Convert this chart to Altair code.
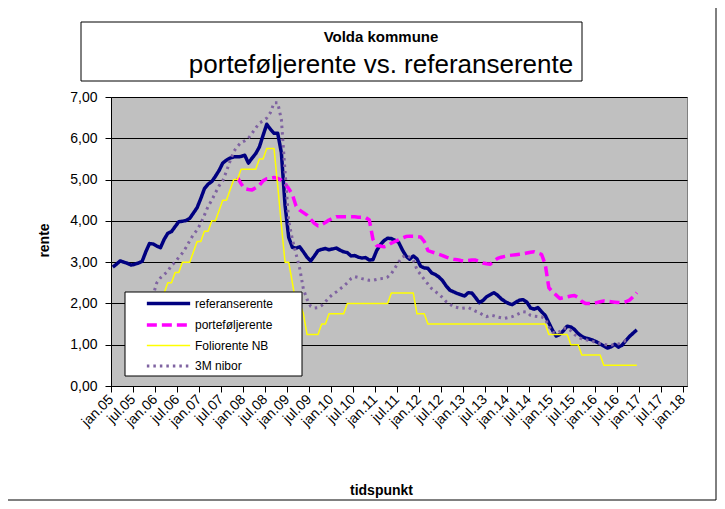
import altair as alt
import pandas as pd

# ---------------- data ----------------
series_names = ["referanserente", "porteføljerente", "Foliorente NB", "3M nibor"]
series_colors = ["#000080", "#FF00FF", "#FFFF00", "#7F63A1"]
series_dash = [[1, 0], [10, 5], [1, 0], [2.5, 4]]
series_width = [3.5, 3.5, 1.5, 3]

# month index of first value (0 = jan.05); points sit mid-month
referanse_start = 0
referanserente = [
    2.88, 2.95, 3.03, 3.00, 2.97, 2.93, 2.95, 2.98, 3.02, 3.25,
    3.45, 3.44, 3.39, 3.35, 3.55, 3.70, 3.74, 3.86, 3.98, 3.99,
    4.01, 4.06, 4.19, 4.32, 4.54, 4.78, 4.89, 4.95, 5.08, 5.22,
    5.40, 5.47, 5.52, 5.55, 5.55, 5.56, 5.59, 5.40, 5.52, 5.63,
    5.79, 6.07, 6.34, 6.22, 6.12, 6.12, 5.65, 4.38, 3.60, 3.36,
    3.34, 3.37, 3.25, 3.12, 3.03, 3.15, 3.28, 3.31, 3.33, 3.30,
    3.32, 3.34, 3.29, 3.25, 3.23, 3.15, 3.16, 3.12, 3.10, 3.11,
    3.05, 3.06, 3.28, 3.42, 3.52, 3.58, 3.57, 3.53, 3.48, 3.30,
    3.15, 3.07, 3.15, 3.08, 2.90, 2.86, 2.85, 2.74, 2.70, 2.64,
    2.55, 2.42, 2.32, 2.28, 2.24, 2.21, 2.18, 2.26, 2.25, 2.14,
    2.02, 2.07, 2.16, 2.21, 2.26, 2.20, 2.11, 2.05, 2.00, 1.97,
    2.03, 2.08, 2.09, 2.03, 1.89, 1.86, 1.90, 1.80, 1.71, 1.53,
    1.35, 1.21, 1.25, 1.34, 1.45, 1.43, 1.37, 1.27, 1.20, 1.16,
    1.14, 1.11, 1.07, 1.02, 0.97, 0.92, 0.95, 1.01, 0.94, 0.99,
    1.10, 1.20, 1.28, 1.36,
]

portefolje_start = 34
porteføljerente = [
    5.05, 4.90, 4.78, 4.76, 4.75, 4.80, 4.86, 4.97, 5.02, 5.03,
    5.05, 5.03, 4.98, 4.90, 4.78, 4.64, 4.36, 4.26, 4.20, 4.14,
    4.04, 3.94, 3.88, 3.91, 3.96, 4.02, 4.06, 4.10, 4.10, 4.10,
    4.10, 4.10, 4.10, 4.09, 4.09, 4.08, 4.02, 3.55, 3.40, 3.39,
    3.37, 3.40, 3.46, 3.50, 3.54, 3.58, 3.62, 3.63, 3.63, 3.62,
    3.61, 3.50, 3.28, 3.25, 3.22, 3.19, 3.16, 3.12, 3.09, 3.07,
    3.06, 3.04, 3.03, 3.04, 3.05, 3.05, 3.02, 2.98, 2.96, 2.95,
    3.03, 3.09, 3.12, 3.14, 3.16, 3.17, 3.18, 3.19, 3.20, 3.22,
    3.24, 3.25, 3.22, 3.19, 2.95, 2.38, 2.28, 2.20, 2.12, 2.14,
    2.16, 2.18, 2.19, 2.14, 2.05, 2.00, 2.00, 2.00, 2.02, 2.04,
    2.06, 2.05, 2.04, 2.03, 2.02, 2.02, 2.04, 2.08, 2.16, 2.26,
]

folio_start = 5
foliorente = [
    2.00, 2.00, 2.00, 2.00, 2.25, 2.25, 2.25, 2.25, 2.25, 2.25,
    2.50, 2.50, 2.75, 2.75, 3.00, 3.00, 3.00, 3.25, 3.50, 3.50,
    3.75, 3.75, 4.00, 4.00, 4.25, 4.50, 4.50, 4.75, 5.00, 5.00,
    5.25, 5.25, 5.25, 5.25, 5.25, 5.50, 5.50, 5.75, 5.75, 5.75,
    4.85, 3.90, 3.00, 3.00, 2.50, 2.00, 2.00, 1.75, 1.25, 1.25,
    1.25, 1.25, 1.50, 1.50, 1.75, 1.75, 1.75, 1.75, 1.75, 2.00,
    2.00, 2.00, 2.00, 2.00, 2.00, 2.00, 2.00, 2.00, 2.00, 2.00,
    2.00, 2.25, 2.25, 2.25, 2.25, 2.25, 2.25, 2.25, 1.75, 1.75,
    1.75, 1.50, 1.50, 1.50, 1.50, 1.50, 1.50, 1.50, 1.50, 1.50,
    1.50, 1.50, 1.50, 1.50, 1.50, 1.50, 1.50, 1.50, 1.50, 1.50,
    1.50, 1.50, 1.50, 1.50, 1.50, 1.50, 1.50, 1.50, 1.50, 1.50,
    1.50, 1.50, 1.50, 1.50, 1.25, 1.25, 1.25, 1.25, 1.25, 1.25,
    1.00, 1.00, 1.00, 0.75, 0.75, 0.75, 0.75, 0.75, 0.75, 0.50,
    0.50, 0.50, 0.50, 0.50, 0.50, 0.50, 0.50, 0.50, 0.50,
]

nibor_start = 6
nibor = [
    1.95, 2.00, 2.05, 2.10, 2.15, 2.20, 2.50, 2.62, 2.70, 2.78,
    2.92, 3.00, 3.12, 3.22, 3.36, 3.52, 3.67, 3.78, 3.94, 4.14,
    4.35, 4.50, 4.68, 4.85, 4.97, 5.20, 5.45, 5.68, 5.80, 5.90,
    5.94, 6.00, 6.12, 6.25, 6.37, 6.42, 6.49, 6.62, 6.86, 6.86,
    6.45, 5.20, 4.00, 3.55, 3.20, 2.85, 2.35, 2.10, 1.93, 1.89,
    1.90, 1.95, 2.04, 2.14, 2.22, 2.28, 2.35, 2.42, 2.50, 2.60,
    2.65, 2.63, 2.60, 2.58, 2.56, 2.56, 2.58, 2.60, 2.61, 2.64,
    2.72, 2.86, 3.00, 3.12, 3.17, 3.12, 3.05, 2.82, 2.70, 2.58,
    2.47, 2.36, 2.29, 2.22, 2.14, 2.04, 1.98, 1.92, 1.90, 1.88,
    1.89, 1.90, 1.86, 1.81, 1.78, 1.72, 1.68, 1.71, 1.70, 1.67,
    1.65, 1.64, 1.66, 1.68, 1.72, 1.76, 1.80, 1.79, 1.71, 1.69,
    1.68, 1.68, 1.62, 1.45, 1.30, 1.28, 1.32, 1.40, 1.40, 1.34,
    1.25, 1.18, 1.14, 1.12, 1.10, 1.08, 1.05, 1.03, 1.01, 0.99,
    0.99, 1.00, 1.02, 1.06, 1.10, 1.07,
]

x_tick_labels = [
    "jan.05", "jul.05", "jan.06", "jul.06", "jan.07", "jul.07", "jan.08",
    "jul.08", "jan.09", "jul.09", "jan.10", "jul.10", "jan.11", "jul.11",
    "jan.12", "jul.12", "jan.13", "jul.13", "jan.14", "jul.14", "jan.15",
    "jul.15", "jan.16", "jul.16", "jan.17", "jul.17", "jan.18",
]
y_tick_values = [0, 1, 2, 3, 4, 5, 6, 7]
title_line1 = "Volda kommune"
title_line2 = "porteføljerente vs. referanserente"

# ---------------- build table ----------------
rows = []
for idx, (start, vals) in enumerate([
    (referanse_start, referanserente),
    (portefolje_start, porteføljerente),
    (folio_start, foliorente),
    (nibor_start, nibor),
]):
    for i, v in enumerate(vals):
        rows.append({"idx": idx, "series": series_names[idx],
                     "month": start + i + 0.5, "rente": v})
df = pd.DataFrame(rows)

x_tick_values = [6 * i for i in range(len(x_tick_labels))]
label_js = "[" + ",".join("'" + s + "'" for s in x_tick_labels) + "]"
names_js = "[" + ",".join("'" + s + "'" for s in series_names) + "]"
thresholds = [0.5, 1.5, 2.5]

FONT = "Liberation Sans"
W, H = 576, 289

legend = alt.Legend(
    title=None, orient="none", legendX=14, legendY=196, padding=0,
    symbolType="M-2.5,0H2.5", symbolSize=300, symbolOffset=33,
    labelOffset=16, labelFont=FONT, labelFontSize=12, labelColor="black",
    labelExpr=names_js + "[datum.index]",
    rowPadding=3.5, fillColor="transparent", strokeColor="transparent",
)

x_enc = alt.X(
    "month:Q",
    scale=alt.Scale(domain=[0, 157.2], nice=False, zero=False),
    axis=alt.Axis(
        values=x_tick_values, labelExpr=label_js + "[round(datum.value/6)]",
        labelAngle=315, labelAlign="right", labelBaseline="middle",
        labelFont=FONT, labelFontSize=14, labelColor="black", labelPadding=5,
        labelOverlap=False, labelBound=False, labelFlush=False,
        domainColor="black", tickColor="black", tickSize=6, grid=False,
        title="tidspunkt", titleFont=FONT, titleFontSize=14, titleFontWeight="bold",
        titleColor="black", titleX=270, titleY=104, titleAlign="center",
        titleBaseline="middle",
    ),
)
y_enc = alt.Y(
    "rente:Q",
    scale=alt.Scale(domain=[0, 7], nice=False, zero=True),
    axis=alt.Axis(
        values=y_tick_values,
        labelExpr="replace(format(datum.value, '.2f'), '.', ',')",
        labelFont=FONT, labelFontSize=14, labelColor="black", labelPadding=8,
        domainColor="black", tickColor="black", tickSize=6,
        gridColor="black", gridWidth=1, labelFlush=False,
        title="rente", titleFont=FONT, titleFontSize=14, titleFontWeight="bold",
        titleColor="black", titleX=-67, titleY=143, titleAngle=270,
        titleAlign="center", titleBaseline="middle",
    ),
)
color_enc = alt.Color("idx:Q", scale=alt.Scale(type="threshold", domain=thresholds, range=series_colors), legend=legend)
dash_enc = alt.StrokeDash("idx:Q", scale=alt.Scale(type="threshold", domain=thresholds, range=series_dash), legend=legend)
width_enc = alt.StrokeWidth("idx:Q", scale=alt.Scale(type="threshold", domain=thresholds, range=series_width), legend=legend)

base = alt.Chart(df)
line_layers = [
    base.mark_line(strokeJoin="round", clip=True)
    .encode(x=x_enc, y=y_enc, color=color_enc, strokeDash=dash_enc, strokeWidth=width_enc)
    .transform_filter(alt.datum.idx == k)
    for k in range(len(series_names))
]

one = pd.DataFrame({"k": [0]})
legend_box = alt.Chart(one).mark_rect(fill="white", stroke="black", strokeWidth=1).encode(
    x=alt.value(14), x2=alt.value(191), y=alt.value(195), y2=alt.value(279)
)
title_box = alt.Chart(one).mark_rect(fill="white", stroke="black", strokeWidth=1, clip=False).encode(
    x=alt.value(-30), x2=alt.value(471), y=alt.value(-75), y2=alt.value(-16)
)
title_text1 = alt.Chart(one).mark_text(
    text=title_line1, font=FONT, fontSize=15, fontWeight="bold", color="black",
    align="center", baseline="alphabetic", clip=False,
).encode(x=alt.value(270), y=alt.value(-55))
title_text2 = alt.Chart(one).mark_text(
    text=title_line2, font=FONT, fontSize=26, color="black",
    align="center", baseline="alphabetic", clip=False,
).encode(x=alt.value(270), y=alt.value(-24.5))
frame_right = alt.Chart(one).mark_rule(color="black", strokeWidth=1, clip=False).encode(
    x=alt.value(605), y=alt.value(-89), y2=alt.value(403)
)
frame_bottom = alt.Chart(one).mark_rule(color="black", strokeWidth=1, clip=False).encode(
    x=alt.value(-103), x2=alt.value(605), y=alt.value(403)
)

chart = alt.layer(
    *line_layers, legend_box, title_box, title_text1, title_text2, frame_right, frame_bottom
).properties(
    width=W, height=H,
    autosize=alt.AutoSizeParams(type="none"),
    padding={"left": 103, "top": 89, "right": 30, "bottom": 115},
).configure(font=FONT, background="white").configure_view(
    fill="#C0C0C0", stroke="#808080", strokeWidth=1
)

chart.save("out.html", embed_options={"renderer": "svg", "actions": False})
